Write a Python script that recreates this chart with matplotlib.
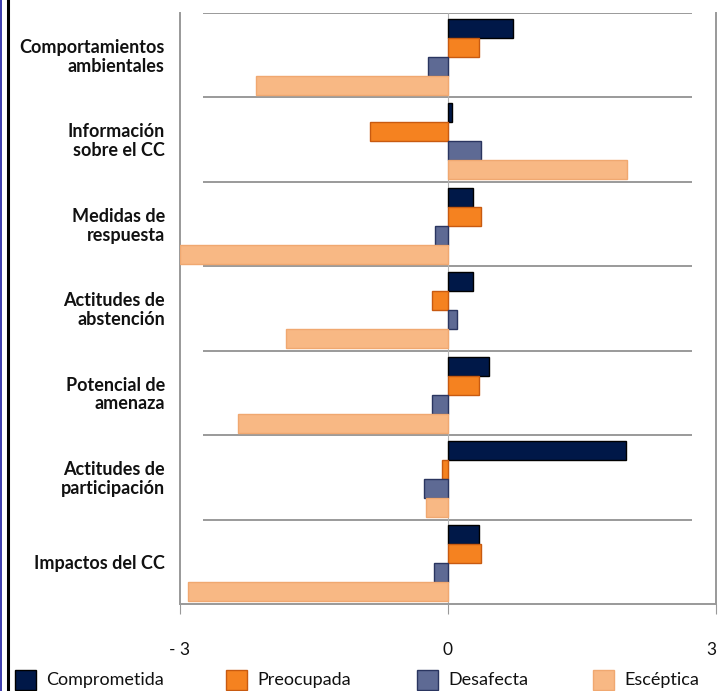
import matplotlib.pyplot as plt
import numpy as np
from matplotlib.patches import Rectangle
from matplotlib.lines import Line2D

categorias = ["Comportamientos\nambientales", "Información\nsobre el CC", "Medidas de\nrespuesta",
              "Actitudes de\nabstención", "Potencial de\namenaza", "Actitudes de\nparticipación",
              "Impactos del CC"]
series = ["Comprometida", "Preocupada", "Desafecta", "Escéptica"]
comprometida = [0.73, 0.05, 0.28, 0.28, 0.46, 1.99, 0.35]
preocupada = [0.35, -0.87, 0.37, -0.18, 0.35, -0.07, 0.37]
desafecta = [-0.22, 0.37, -0.15, 0.10, -0.18, -0.27, -0.16]
esceptica = [-2.15, 2.00, -3.00, -1.81, -2.35, -0.25, -2.91]
xticks = [-3, 0, 3]
xticklabels = ["- 3", "0", "3"]

colores = ['#001848', '#F58220', '#5E6A94', '#F8B884']
bordes = ['#000000', '#C85A10', '#2A3560', '#F0A870']
valores = [comprometida, preocupada, desafecta, esceptica]

W, H = 719, 691
fig = plt.figure(figsize=(W / 100, H / 100), dpi=100)
ax = fig.add_axes([0.2503, 0.1259, 0.7455, 0.8553])

y = np.arange(len(categorias))
h = 0.225
for i, (vals, c, b, nombre) in enumerate(zip(valores, colores, bordes, series)):
    ax.barh(y - 1.5 * h + i * h + 0.02, vals, height=h, color=c, edgecolor=b,
            linewidth=1.0, label=nombre, zorder=3)

# separadores entre categorias
ax.hlines(np.arange(len(categorias)) - 0.5, -2.74, 2.73, color='#9a9a9a', linewidth=1.4, zorder=1)
ax.axvline(0, color='#b0b0b0', linewidth=0.8, zorder=2)

ax.set_xlim(-3, 3)
ax.set_ylim(len(categorias) - 0.5, -0.5)
ax.set_yticks([])
ax.set_xticks(xticks)
ax.set_xticklabels(xticklabels, fontsize=12.5, family='Lato', color='#111111')
ax.get_xticklabels()[-1].set_ha('right')
ax.tick_params(axis='x', length=7, color='#999999', pad=20)

for lado in ['left', 'right', 'bottom']:
    ax.spines[lado].set_color('#999999')
    ax.spines[lado].set_linewidth(1.4)
ax.spines['top'].set_visible(False)

for yi, cat in zip(y, categorias):
    ax.text(-3.17, yi + 0.02, cat, ha='right', va='center', fontsize=13, family='Lato',
            fontweight='bold', color='#111111', linespacing=1.12, clip_on=False)

# leyenda a mano: cuadro + texto
cuadros_x = [15, 226, 417, 593]
for xl, nombre, c, b in zip(cuadros_x, series, colores, bordes):
    fig.add_artist(Rectangle((xl / W, 1 / H), 21 / W, 20 / H, transform=fig.transFigure,
                             facecolor=c, edgecolor=b, linewidth=1.0))
    fig.text((xl + 31) / W, 1 - 680 / H, nombre, ha='left', va='center', fontsize=13,
             family='Lato', color='#111111')

# borde oscuro a la izquierda
fig.add_artist(Line2D([7.5 / W, 7.5 / W], [0, 1], color='#000000', linewidth=2.2))
fig.add_artist(Line2D([1 / W, 1 / W], [0, 1], color='#1a1aa0', linewidth=1.2))

plt.savefig('out.png', dpi=100)
